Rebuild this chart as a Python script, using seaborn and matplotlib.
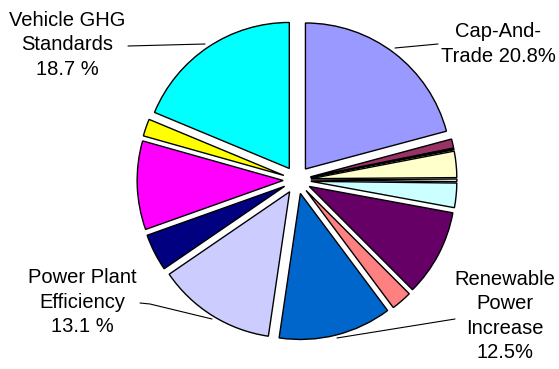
import matplotlib
matplotlib.use('Agg')
import matplotlib.pyplot as plt
import numpy as np
import seaborn as sns

sns.set_theme(style="white")
plt.rcParams['font.family'] = ['Liberation Sans', 'DejaVu Sans']

# slices, clockwise from 12 o'clock
measures = ["Cap-And-Trade", "m2", "m3", "m4", "m5", "m6", "m7", "m8",
            "Renewable Power Increase", "Power Plant Efficiency",
            "m11", "m12", "m13", "Vehicle GHG Standards"]
shares = [20.8, 1.0, 0.15, 2.9, 0.3, 2.7, 9.6, 2.3, 12.5, 13.1, 4.1, 9.8, 1.9, 18.7]
slice_colors = ["#9999FF", "#993366", "#333333", "#FFFFCC", "#E0E0E0", "#CCFFFF",
                "#660066", "#FF8080", "#0066CC", "#CCCCFF", "#000080", "#FF00FF",
                "#FFFF00", "#00FFFF"]

label_texts = {
    "Vehicle GHG Standards": "Vehicle GHG\nStandards\n18.7 %",
    "Cap-And-Trade": "Cap-And-\nTrade 20.8%",
    "Power Plant Efficiency": "Power Plant\nEfficiency\n13.1 %",
    "Renewable Power Increase": "Renewable\nPower\nIncrease\n12.5%",
}

W, H = 559, 369
cx, cy, R = 297, 180, 146   # pie centre / radius in pixels


def px(x, y):
    return (x - cx) / R, (cy - y) / R


fig = plt.figure(figsize=(W / 100, H / 100), dpi=100)
ax = fig.add_axes([0, 0, 1, 1])
ax.pie(shares, colors=slice_colors, explode=[0.095] * len(shares),
       startangle=90, counterclock=False, radius=1,
       wedgeprops={"edgecolor": "black", "linewidth": 1.0})
ax.set_xlim(-cx / R, (W - cx) / R)
ax.set_ylim(-(H - cy) / R, cy / R)
ax.set_aspect('equal')
ax.axis('off')

# label text centres and leader lines (pixel coords)
label_pos = {
    "Vehicle GHG Standards": (67, 45),
    "Cap-And-Trade": (498, 44),
    "Power Plant Efficiency": (82, 302),
    "Renewable Power Increase": (505, 316),
}
leaders = {
    "Vehicle GHG Standards": [(128, 46), (205, 44)],
    "Cap-And-Trade": [(395, 48), (438, 44)],
    "Power Plant Efficiency": [(140, 303), (150, 304), (212, 319)],
    "Renewable Power Increase": [(455, 319), (337, 338)],
}

for name, txt in label_texts.items():
    x, y = px(*label_pos[name])
    ax.text(x, y, txt, ha='center', va='center', fontsize=14.5,
            linespacing=1.34, color='black')
    pts = np.array([px(*p) for p in leaders[name]])
    ax.plot(pts[:, 0], pts[:, 1], color='black', linewidth=0.8)

fig.savefig("out.png", dpi=100)
